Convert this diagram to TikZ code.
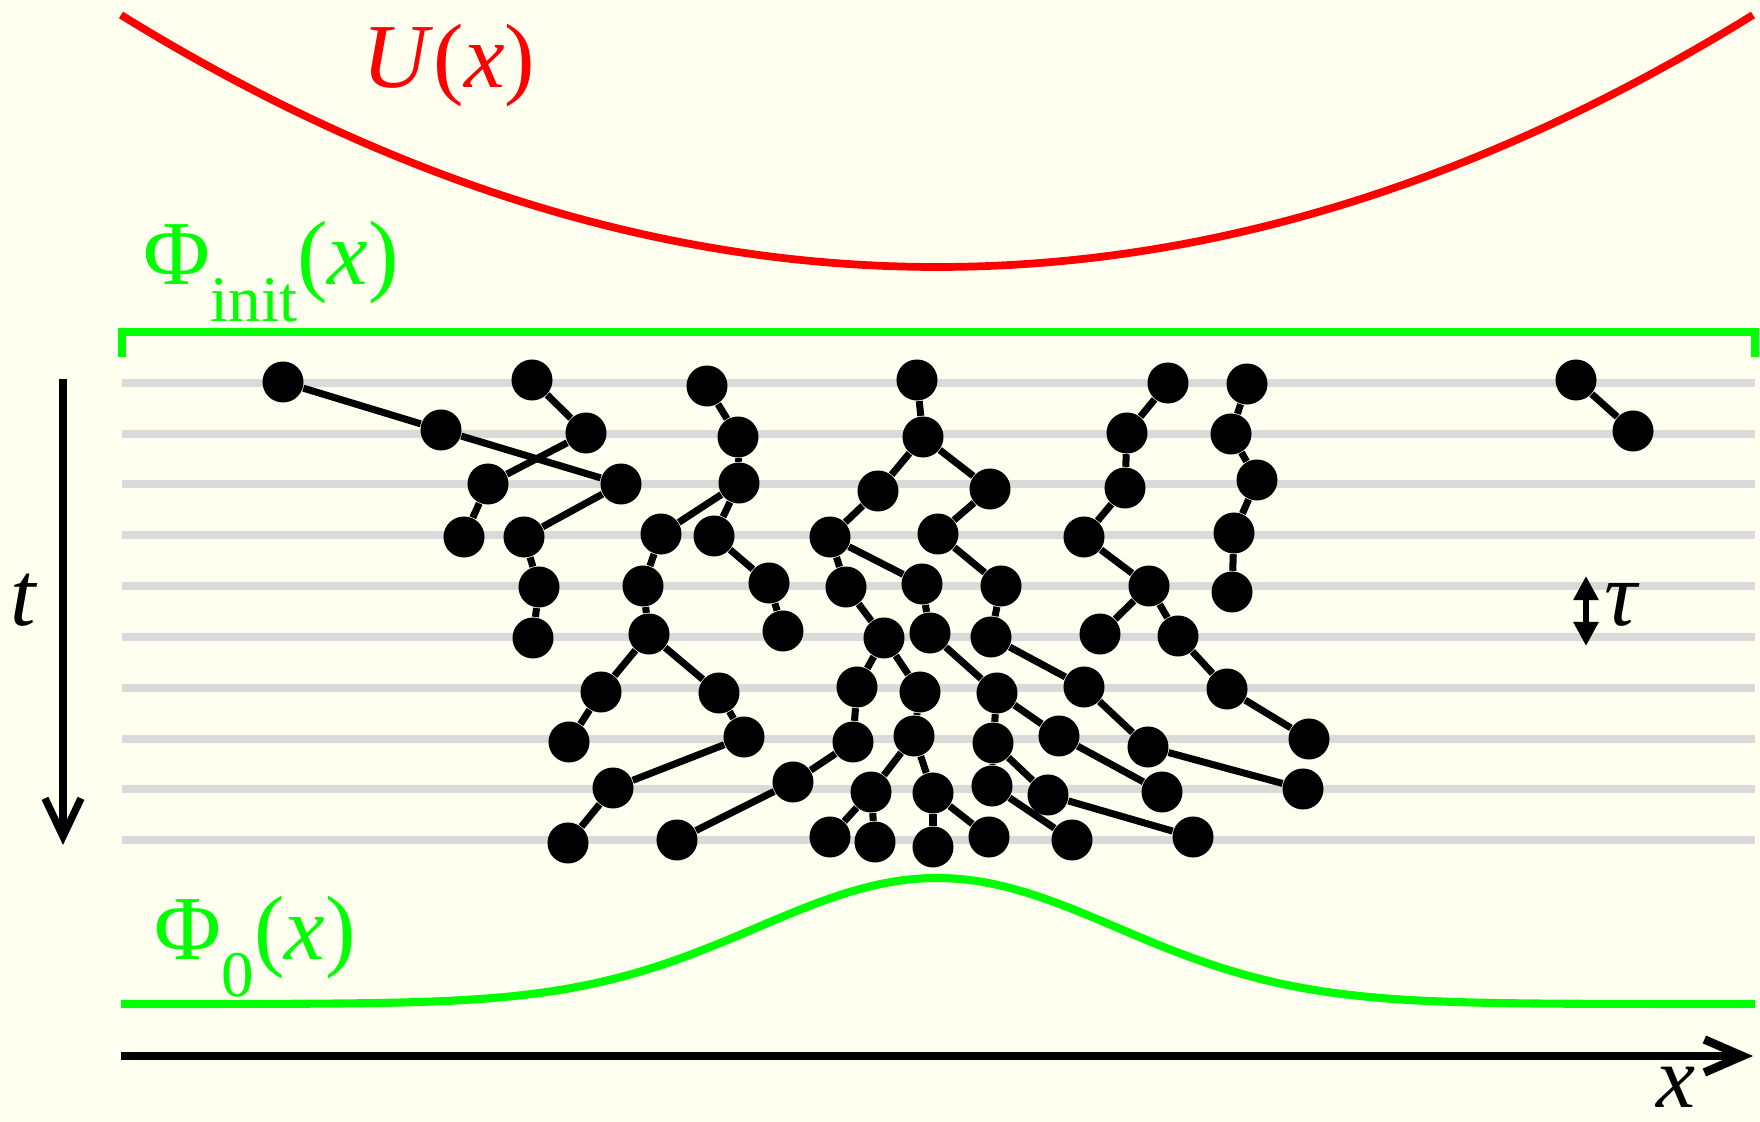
\documentclass[tikz,border=0pt]{standalone}
\usepackage{fontspec}
\setmainfont{Liberation Serif}
\usetikzlibrary{arrows.meta}
\definecolor{bg}{HTML}{FFFFF0}
\definecolor{gridgray}{HTML}{DADADA}
\definecolor{pgreen}{HTML}{00FF00}
\definecolor{pred}{HTML}{FF0000}
\begin{document}
\begin{tikzpicture}[x=0.01cm,y=-0.01cm,
  dot/.style={circle,fill=black,draw=none,minimum size=0.41cm,inner sep=0pt},
  link/.style={line width=2pt,black},
  gridline/.style={line width=2.1pt,gridgray},
  lab/.style={inner sep=0pt,font=\fontsize{26}{30}\selectfont},
  axisline/.style={line width=2.1pt,black}]
\fill[bg] (0,0) rectangle (1760,1122);
\useasboundingbox (0,0) rectangle (1760,1122);
% time slices
\foreach \y in {383,434,484,535,586,637,688,739,789,840}
  \draw[gridline] (122,\y) -- (1755,\y);
% potential
\draw[pred,line width=2.2pt] plot[domain=121:1753,samples=120] (\x,{267-252*((\x-937)/816)^2});
\node[lab,text=pred,anchor=base west] (U) at (362,88) {\textit{U}(\textit{x})};
% initial distribution
\draw[pgreen,line width=2.3pt] (122,357) -- (122,332) -- (1755,332) -- (1755,357);
\node[lab,text=pgreen,anchor=base west] (Pinit) at (143,285) {Φ\raisebox{-10.5pt}{\fontsize{18.5}{20}\selectfont init}(\textit{x})};
% ground state
\draw[pgreen,line width=2.3pt] plot[domain=121:1755,samples=160] (\x,{1004-126*exp(-((\x-937)/180)^2/2)});
\node[lab,text=pgreen,anchor=base west] (P0) at (154,960) {Φ\raisebox{-10.5pt}{\fontsize{18.5}{20}\selectfont 0}(\textit{x})};
% axes
\coordinate (ts) at (63,379);
\coordinate (te) at (63,845);
\draw[axisline,-{Straight Barb[length=0.38cm,width=0.36cm,line width=2.1pt]}] (ts) -- (te);
\node[lab,anchor=base west] (tl) at (10,626) {\textit{t}};
\coordinate (xs) at (121,1056);
\coordinate (xe) at (1753,1056);
\draw[axisline,line width=2.4pt,-{Straight Barb[length=0.38cm,width=0.33cm,line width=2.4pt]}] (xs) -- (xe);
\node[lab,anchor=base west,font=\fontsize{25}{30}\selectfont] (xl) at (1656,1107) {\textit{x}};
% tau
\coordinate (ta) at (1586,576);
\coordinate (tb) at (1586,646);
\draw[line width=1.6pt,{Triangle[length=0.24cm,width=0.24cm]}-{Triangle[length=0.24cm,width=0.24cm]}] (ta) -- (tb);
\node[lab,anchor=base west] (taul) at (1604,626) {\textit{τ}};
% walkers
\foreach \n/\px/\py in {
  a0/283/382, a1/441/430, a2/621/484, a3/524/537, a4/539/587, a5/533/638,
  b0/532/380, b1/586/433, b2/488/484, b3/464/537,
  c0/707/386, c1/738/437, c2/739/483, c3/661/534, c4/714/536, c5/643/586,
  c6/649/634, c7/601/692, c8/719/693, c9/569/742, c10/744/737, c11/613/788,
  c12/568/843, c13/769/583, c14/783/631,
  d0/917/380, d1/923/437, d2/878/491, d3/990/489, d4/830/537, d5/938/534,
  d6/846/587, d7/922/584, d8/884/638, d9/930/633, d10/1001/586, d11/991/637,
  d12/857/687, d13/920/692, d14/997/693, d15/853/742, d16/914/736, d17/993/743,
  d18/1059/736, d19/793/782, d20/677/840, d21/871/792, d22/933/793, d23/830/837,
  d24/875/842, d25/933/847, d26/989/837, d27/992/786, d28/1048/795, d29/1072/840,
  d30/1193/837, d31/1162/792, d32/1084/687, d33/1148/747, d34/1303/789,
  e0/1168/383, e1/1127/433, e2/1125/488, e3/1084/537, e4/1149/586, e5/1100/634,
  e6/1178/636, e7/1227/689, e8/1309/739,
  f0/1247/384, f1/1231/434, f2/1257/480, f3/1234/533, f4/1232/592,
  g0/1576/380, g1/1633/431}
  \node[dot] (\n) at (\px,\py) {};
\foreach \u/\v in {
  a0/a1, a1/a2, a2/a3, a3/a4, a4/a5,
  b0/b1, b1/b2, b2/b3,
  c0/c1, c1/c2, c2/c3, c2/c4, c3/c5, c5/c6, c6/c7, c6/c8, c7/c9, c8/c10,
  c10/c11, c11/c12, c4/c13, c13/c14,
  d0/d1, d1/d2, d1/d3, d2/d4, d3/d5, d4/d6, d4/d7, d6/d8, d7/d9, d5/d10,
  d10/d11, d8/d12, d8/d13, d9/d14, d12/d15, d13/d16, d14/d17, d14/d18,
  d15/d19, d19/d20, d16/d21, d16/d22, d21/d23, d21/d24, d22/d25, d22/d26,
  d17/d27, d17/d28, d27/d29, d28/d30, d18/d31, d11/d32, d32/d33, d33/d34,
  e0/e1, e1/e2, e2/e3, e3/e4, e4/e5, e4/e6, e6/e7, e7/e8,
  f0/f1, f1/f2, f2/f3, f3/f4,
  g0/g1}
  \draw[link] (\u) -- (\v);
\end{tikzpicture}
\end{document}
